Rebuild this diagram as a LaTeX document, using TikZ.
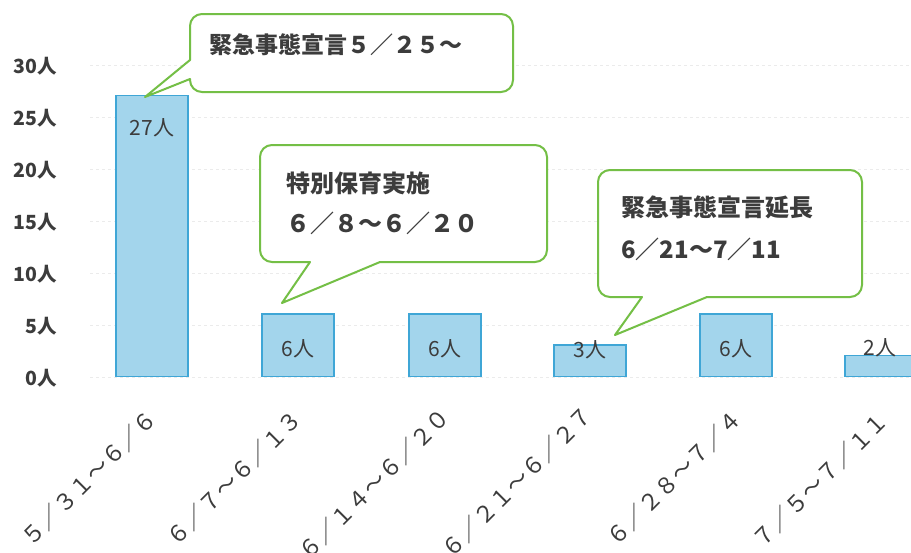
\documentclass[tikz,border=0pt]{standalone}
\usepackage{fontspec}
\setmainfont{Noto Sans CJK JP}
\definecolor{txt}{HTML}{3C3C3C}
\definecolor{barfill}{HTML}{A3D5EC}
\definecolor{barline}{HTML}{3FA6D6}
\definecolor{callgreen}{HTML}{74BF46}
\tikzset{
  bar/.style={draw=barline, fill=barfill, line width=1.5pt, minimum width=72pt, anchor=south, inner sep=0pt},
  ylab/.style={anchor=east, font=\bfseries\fontsize{19.5}{19.5}\selectfont, text=txt, inner sep=0pt},
  vlab/.style={font=\fontsize{21}{21}\selectfont, text=txt, inner sep=0pt},
  xlab/.style={rotate=45, anchor=east, font=\fontsize{22.5}{22.5}\selectfont, text=txt, inner sep=0pt},
  callout/.style={draw=callgreen, fill=white, line width=2pt, line join=round},
  ctext/.style={anchor=west, font=\bfseries\fontsize{24}{24}\selectfont, text=txt, inner sep=0pt},
  grid/.style={draw=black!8, line width=0.6pt, dash pattern=on 3pt off 3pt}
}
\begin{document}
\begin{tikzpicture}[x=1pt,y=-1pt]
\useasboundingbox (0,0) rectangle (911,552);
\fill[white] (0,0) rectangle (911,552);
% gridlines and y labels
\foreach \v/\t in {0/0人,5/5人,10/10人,15/15人,20/20人,25/25人,30/30人}{
  \draw[grid] (90,{377-10.4*\v}) -- (911,{377-10.4*\v});
  \node[ylab] (y\v) at (57,{378-10.4*\v}) {\t};
}
% bars
\node[bar, minimum height=280.8pt] (b1) at (152,377) {};
\node[bar, minimum height=62.4pt] (b2) at (298,377) {};
\node[bar, minimum height=62.4pt] (b3) at (445,377) {};
\node[bar, minimum height=31.2pt] (b4) at (590,377) {};
\node[bar, minimum height=62.4pt] (b5) at (736,377) {};
\node[bar, minimum height=20.8pt] (b6) at (881,377) {};
% value labels
\node[vlab] (v1) at (152,128) {27人};
\node[vlab] (v2) at (298,349) {6人};
\node[vlab] (v3) at (445,349) {6人};
\node[vlab] (v4) at (590,350) {3人};
\node[vlab] (v5) at (736,349) {6人};
\node[vlab] (v6) at (880,348) {2人};
% x labels
\node[xlab] (x1) at (153,414) {５／３１～６／６};
\node[xlab] (x2) at (298,414) {６／７～６／１３};
\node[xlab] (x3) at (446,412) {６／１４～６／２０};
\node[xlab] (x4) at (589,410) {６／２１～６／２７};
\node[xlab] (x5) at (738,414) {６／２８～７／４};
\node[xlab] (x6) at (884,416) {７／５～７／１１};
% callout 1
\coordinate (t1) at (145,97);
\draw[callout] (190,60) [rounded corners=12pt] -- (190,14) -- (513,14) -- (513,92) -- (190,92) [sharp corners] -- (190,79) -- (t1) -- cycle;
\node[ctext, font=\bfseries\fontsize{23}{23}\selectfont] (c1) at (209,45) {緊急事態宣言５／２５～};
% callout 2
\coordinate (t2) at (282,303);
\draw[callout] (310,262) -- (t2) -- (380,262) [rounded corners=12pt] -- (547,262) -- (547,145) -- (260,145) -- (260,262) [sharp corners] -- cycle;
\node[ctext] (c2a) at (286,183) {特別保育実施};
\node[ctext] (c2b) at (286,223) {６／８～６／２０};
% callout 3
\coordinate (t3) at (615,335);
\draw[callout] (642,297) -- (t3) -- (707,297) [rounded corners=12pt] -- (862,297) -- (862,170) -- (598,170) -- (598,297) [sharp corners] -- cycle;
\node[ctext] (c3a) at (621,207) {緊急事態宣言延長};
\node[ctext] (c3b) at (621,249) {6／21～7／11};
\end{tikzpicture}
\end{document}
